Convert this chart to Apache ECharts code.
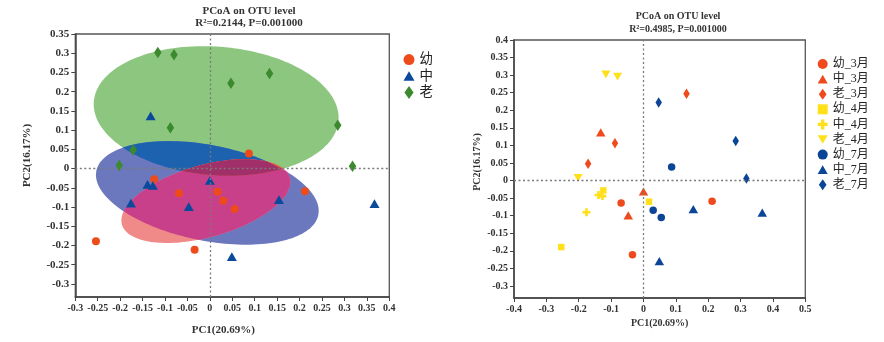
<!DOCTYPE html>
<html>
<head>
<meta charset="utf-8">
<script src="https://cdn.jsdelivr.net/npm/echarts@6/dist/echarts.min.js"></script>
<style>
  html, body { margin: 0; padding: 0; background: #fff; }
  #chart { width: 884px; height: 342px; }
</style>
</head>
<body>
<div id="chart"></div>
<script>
// PCoA sample scores [PC1, PC2], one array per age group and sampling month
const YOUNG_MAR = [[-0.069, -0.064], [-0.034, -0.211], [0.212, -0.059]];
const MID_MAR   = [[-0.132, 0.137], [0.000, -0.031], [-0.047, -0.099]];
const OLD_MAR   = [[-0.088, 0.106], [-0.171, 0.048], [0.133, 0.247]];
const YOUNG_APR = [[-0.124, -0.028], [0.017, -0.060], [-0.254, -0.189]];
const MID_APR   = [[-0.139, -0.041], [-0.127, -0.044], [-0.176, -0.090]];
const OLD_APR   = [[-0.116, 0.302], [-0.080, 0.296], [-0.202, 0.008]];
const YOUNG_JUL = [[0.030, -0.084], [0.055, -0.105], [0.087, 0.039]];
const MID_JUL   = [[0.154, -0.081], [0.367, -0.091], [0.049, -0.229]];
const OLD_JUL   = [[0.047, 0.222], [0.285, 0.113], [0.318, 0.006]];

const AGE_NAMES = ['幼', '中', '老'];
const MONTH_NAMES = ['幼_3月', '中_3月', '老_3月', '幼_4月', '中_4月', '老_4月', '幼_7月', '中_7月', '老_7月'];

const TITLE_LEFT = 'PCoA on OTU level\nR²=0.2144, P=0.001000';
const TITLE_RIGHT = 'PCoA on OTU level\nR²=0.4985, P=0.001000';
const X_NAME = 'PC1(20.69%)';
const Y_NAME = 'PC2(16.17%)';

const X_TICKS_LEFT = [-0.3, -0.25, -0.2, -0.15, -0.1, -0.05, 0, 0.05, 0.1, 0.15, 0.2, 0.25, 0.3, 0.35, 0.4];
const Y_TICKS_LEFT = [-0.3, -0.25, -0.2, -0.15, -0.1, -0.05, 0, 0.05, 0.1, 0.15, 0.2, 0.25, 0.3, 0.35];
const X_TICKS_RIGHT = [-0.4, -0.3, -0.2, -0.1, 0, 0.1, 0.2, 0.3, 0.4, 0.5];
const Y_TICKS_RIGHT = [-0.3, -0.25, -0.2, -0.15, -0.1, -0.05, 0, 0.05, 0.1, 0.15, 0.2, 0.25, 0.3, 0.35, 0.4];

// pooled groups for the left panel
const YOUNG_ALL = YOUNG_MAR.concat(YOUNG_APR, YOUNG_JUL);
const MID_ALL = MID_MAR.concat(MID_APR, MID_JUL);
const OLD_ALL = OLD_MAR.concat(OLD_APR, OLD_JUL);

const SERIF = '"Liberation Serif", "Times New Roman", serif';
const CJK = '"Liberation Serif", "Noto Sans CJK SC", sans-serif';

const SYM = {
  circle: 'circle',
  triangle: 'path://M0,-5L5.77,5L-5.77,5Z',
  diamond: 'path://M0,-6L4.2,0L0,6L-4.2,0Z',
  square: 'path://M0,0L1,0L1,1L0,1Z',
  plus: 'path://M-1,-3L1,-3L1,-1L3,-1L3,1L1,1L1,3L-1,3L-1,1L-3,1L-3,-1L-1,-1Z',
  down: 'path://M-5.77,-5L5.77,-5L0,5Z'
};

// covariance ellipse around a group centroid (radius sqrt(2) standard deviations)
function covEllipse(pts, k, n) {
  const m = pts.length;
  let mx = 0, my = 0;
  pts.forEach(p => { mx += p[0]; my += p[1]; });
  mx /= m; my /= m;
  let sxx = 0, syy = 0, sxy = 0;
  pts.forEach(p => {
    const dx = p[0] - mx, dy = p[1] - my;
    sxx += dx * dx; syy += dy * dy; sxy += dx * dy;
  });
  sxx /= (m - 1); syy /= (m - 1); sxy /= (m - 1);
  const l11 = Math.sqrt(sxx), l21 = sxy / l11, l22 = Math.sqrt(Math.max(syy - l21 * l21, 0));
  const out = [];
  for (let i = 0; i < n; i++) {
    const t = 2 * Math.PI * i / n, c = Math.cos(t), s = Math.sin(t);
    out.push([mx + k * l11 * c, my + k * (l21 * c + l22 * s)]);
  }
  return out;
}

function signedArea(poly) {
  let a = 0;
  for (let i = 0; i < poly.length; i++) {
    const p = poly[i], q = poly[(i + 1) % poly.length];
    a += p[0] * q[1] - q[0] * p[1];
  }
  return a / 2;
}

// Sutherland–Hodgman: clip a polygon by a convex polygon
function clipPoly(subject, clip) {
  const sign = signedArea(clip) > 0 ? 1 : -1;
  let out = subject.slice();
  for (let i = 0; i < clip.length && out.length; i++) {
    const a = clip[i], b = clip[(i + 1) % clip.length];
    const inside = p => sign * ((b[0] - a[0]) * (p[1] - a[1]) - (b[1] - a[1]) * (p[0] - a[0])) >= 0;
    const cross = (p, q) => {
      const d1x = q[0] - p[0], d1y = q[1] - p[1];
      const d2x = b[0] - a[0], d2y = b[1] - a[1];
      const den = d1x * d2y - d1y * d2x;
      const t = ((a[0] - p[0]) * d2y - (a[1] - p[1]) * d2x) / den;
      return [p[0] + t * d1x, p[1] + t * d1y];
    };
    const inp = out;
    out = [];
    for (let j = 0; j < inp.length; j++) {
      const p = inp[j], q = inp[(j + 1) % inp.length];
      const pin = inside(p), qin = inside(q);
      if (pin) out.push(p);
      if (pin !== qin) out.push(cross(p, q));
    }
  }
  return out;
}

const ELLIPSE_K = Math.SQRT2;
const ELL_YOUNG = covEllipse(YOUNG_ALL, ELLIPSE_K, 160);
const ELL_MID = covEllipse(MID_ALL, ELLIPSE_K, 160);
const ELL_OLD = covEllipse(OLD_ALL, ELLIPSE_K, 160);

const FILL = {
  old: '#8CC67F', mid: '#6B78BE', young: '#F08A88',
  midOld: '#1D62AF', youngMid: '#C8408A', youngOld: '#E0663E', all: '#A12F69'
};

const COL_L = { young: '#EE4B1B', mid: '#0B4A9A', old: '#3B8A2E' };
const COL_R = { mar: '#EF4A1D', apr: '#FFE01A', jul: '#0B4597' };

function fmt(v) { return String(Math.round(v * 100) / 100); }

function valueAxis(gridIndex, min, max, ticks, fontSize, name, nameOpts) {
  return Object.assign({
    type: 'value', gridIndex, min, max, name,
    nameLocation: 'middle',
    axisLine: { show: true, onZero: false, lineStyle: { color: '#444', width: 1.5 } },
    axisTick: { show: true, inside: false, length: 4, customValues: ticks, lineStyle: { color: '#444', width: 1 } },
    axisLabel: { show: true, customValues: ticks, formatter: fmt, margin: 6, hideOverlap: false,
      fontFamily: SERIF, fontWeight: 'bold', fontSize, color: '#333' },
    splitLine: { show: false }
  }, nameOpts);
}

const zeroLines = (xi, yi) => ({
  type: 'scatter', xAxisIndex: xi, yAxisIndex: yi, data: [], z: 2, silent: true,
  markLine: {
    silent: true, symbol: 'none', animation: false,
    label: { show: false },
    lineStyle: { color: '#7a7a7a', width: 1.3, type: [2, 2.5] },
    emphasis: { disabled: true },
    data: [{ xAxis: 0 }, { yAxis: 0 }]
  }
});

const scatter = (name, data, xi, yi, symbol, size, color) => ({
  type: 'scatter', name, data, xAxisIndex: xi, yAxisIndex: yi, z: 3,
  symbol, symbolSize: size,
  itemStyle: { color, opacity: 1 },
  emphasis: { disabled: true }
});

const option = {
  backgroundColor: '#fff',
  animation: false,
  title: [
    { text: TITLE_LEFT, left: 249, top: 4.8, textAlign: 'center', padding: 0,
      textStyle: { fontFamily: SERIF, fontWeight: 'bold', fontSize: 11, lineHeight: 12.4, color: '#333' } },
    { text: TITLE_RIGHT, left: 678, top: 10.4, textAlign: 'center', padding: 0,
      textStyle: { fontFamily: SERIF, fontWeight: 'bold', fontSize: 10, lineHeight: 12.6, color: '#333' } }
  ],
  grid: [
    { left: 75.3, top: 34, width: 314, height: 263, show: true, borderColor: '#555', borderWidth: 1.3, backgroundColor: 'transparent' },
    { left: 514, top: 40, width: 291.3, height: 258, show: true, borderColor: '#555', borderWidth: 1.3, backgroundColor: 'transparent' }
  ],
  xAxis: [
    valueAxis(0, -0.3, 0.4, X_TICKS_LEFT, 10, X_NAME, { nameGap: 28, nameTextStyle: { fontFamily: SERIF, fontWeight: 'bold', fontSize: 11, color: '#333', padding: [0, 18, 0, 0] } }),
    valueAxis(1, -0.4, 0.5, X_TICKS_RIGHT, 10, X_NAME, { nameGap: 19, nameTextStyle: { fontFamily: SERIF, fontWeight: 'bold', fontSize: 10, color: '#333' } })
  ],
  yAxis: [
    valueAxis(0, -0.334, 0.35, Y_TICKS_LEFT, 11, Y_NAME, { nameGap: 43, nameTextStyle: { fontFamily: SERIF, fontWeight: 'bold', fontSize: 11, color: '#333', padding: [0, 0, 0, 20] } }),
    valueAxis(1, -0.334, 0.4, Y_TICKS_RIGHT, 10, Y_NAME, { nameGap: 32, nameTextStyle: { fontFamily: SERIF, fontWeight: 'bold', fontSize: 10, color: '#333', padding: [0, 0, 0, 14] } })
  ],
  legend: [
    { data: AGE_NAMES, orient: 'vertical', left: 403.5, top: 52.8, itemWidth: 11, itemHeight: 13, itemGap: 3,
      selectedMode: false, padding: 0, symbolKeepAspect: true,
      textStyle: { fontFamily: CJK, fontSize: 13.5, color: '#222' } },
    { data: MONTH_NAMES, orient: 'vertical', left: 817.7, top: 58, itemWidth: 10, itemHeight: 11, itemGap: 3.1,
      selectedMode: false, padding: 0, symbolKeepAspect: true,
      textStyle: { fontFamily: CJK, fontSize: 12, color: '#222' } }
  ],
  series: [
    {
      type: 'custom', xAxisIndex: 0, yAxisIndex: 0, data: [[0, 0]], z: 1, silent: true, clip: true,
      renderItem: function (params, api) {
        const px = pts => pts.map(p => api.coord(p));
        const G = px(ELL_OLD), B = px(ELL_MID), P = px(ELL_YOUNG);
        const GB = clipPoly(B, G);
        const PB = clipPoly(P, B);
        const PG = clipPoly(P, G);
        const PBG = clipPoly(PB, G);
        const poly = (pts, fill) => ({ type: 'polygon', shape: { points: pts }, style: { fill: fill, stroke: null }, silent: true });
        const kids = [poly(G, FILL.old), poly(B, FILL.mid)];
        if (GB.length > 2) kids.push(poly(GB, FILL.midOld));
        kids.push(poly(P, FILL.young));
        if (PB.length > 2) kids.push(poly(PB, FILL.youngMid));
        if (PG.length > 2) kids.push(poly(PG, FILL.youngOld));
        if (PBG.length > 2) kids.push(poly(PBG, FILL.all));
        return { type: 'group', children: kids };
      }
    },
    zeroLines(0, 0),
    zeroLines(1, 1),
    scatter('幼', YOUNG_ALL, 0, 0, SYM.circle, 8, COL_L.young),
    scatter('中', MID_ALL, 0, 0, SYM.triangle, [10, 8.7], COL_L.mid),
    scatter('老', OLD_ALL, 0, 0, SYM.diamond, [7.5, 11.5], COL_L.old),

    scatter('幼_3月', YOUNG_MAR, 1, 1, SYM.circle, 7.5, COL_R.mar),
    scatter('中_3月', MID_MAR, 1, 1, SYM.triangle, [9.5, 8.2], COL_R.mar),
    scatter('老_3月', OLD_MAR, 1, 1, SYM.diamond, [6.5, 10.5], COL_R.mar),
    scatter('幼_4月', YOUNG_APR, 1, 1, SYM.square, 6.5, COL_R.apr),
    scatter('中_4月', MID_APR, 1, 1, SYM.plus, 8, COL_R.apr),
    scatter('老_4月', OLD_APR, 1, 1, SYM.down, [9, 7.8], COL_R.apr),
    scatter('幼_7月', YOUNG_JUL, 1, 1, SYM.circle, 7.5, COL_R.jul),
    scatter('中_7月', MID_JUL, 1, 1, SYM.triangle, [9.5, 8.2], COL_R.jul),
    scatter('老_7月', OLD_JUL, 1, 1, SYM.diamond, [6.5, 10.5], COL_R.jul)
  ]
};

const chart = echarts.init(document.getElementById('chart'), null, { renderer: 'canvas' });
chart.setOption(option);
</script>
</body>
</html>
